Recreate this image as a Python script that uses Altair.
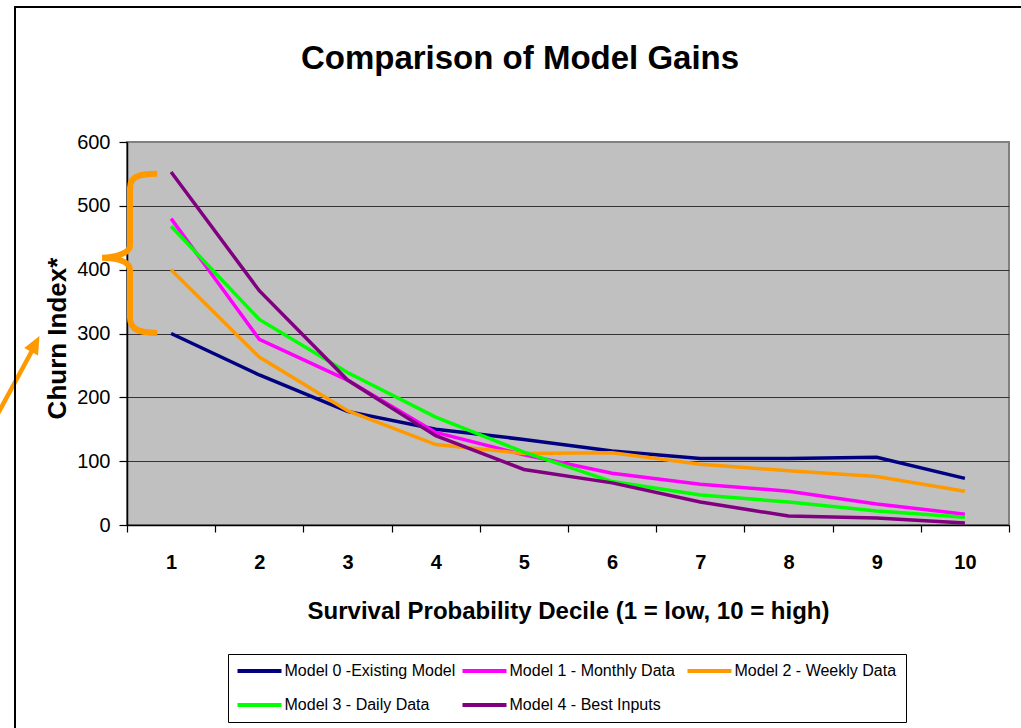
import altair as alt
import pandas as pd

# ---- data ----
deciles = [1, 2, 3, 4, 5, 6, 7, 8, 9, 10]
series_names = [
    "Model 0 -Existing Model",
    "Model 1 - Monthly Data",
    "Model 2 - Weekly Data",
    "Model 3 - Daily Data",
    "Model 4 - Best Inputs",
]
model0 = [300, 235, 178, 150, 134, 116, 104, 104, 106, 73]
model1 = [480, 291, 227, 145, 110, 81, 64, 53, 33, 17]
model2 = [400, 263, 179, 126, 112, 113, 95, 85, 76, 53]
model3 = [468, 322, 239, 169, 114, 68, 47, 36, 22, 12]
model4 = [553, 367, 227, 140, 87, 66, 36, 14, 11, 3]
series_values = [model0, model1, model2, model3, model4]
colors = ["#000080", "#FF00FF", "#FF9900", "#00FF00", "#800080"]
y_ticks = [0, 100, 200, 300, 400, 500, 600]

title_text = "Comparison of Model Gains"
x_title = "Survival Probability Decile (1 = low, 10 = high)"
y_title = "Churn Index*"
brace_center_value = 425  # middle of the decile-1 spread (300..553)

rows = []
for name, vals in zip(series_names, series_values):
    for d, v in zip(deciles, vals):
        rows.append({"decile": d, "index": v, "model": name})
df = pd.DataFrame(rows)

FONT = "Liberation Sans, Arial, sans-serif"
ORANGE = "#FF9900"

# tick marks at the category boundaries, labels at the category centres
x_axis_values = sorted(set([d - 0.5 for d in deciles] + [deciles[-1] + 0.5] + deciles))

x_enc = alt.X(
    "decile:Q",
    scale=alt.Scale(domain=[deciles[0] - 0.5, deciles[-1] + 0.5], nice=False, zero=False),
    axis=alt.Axis(
        values=x_axis_values,
        title=x_title,
        grid=False,
        labelExpr="datum.value % 1 == 0 ? format(datum.value, 'd') : ''",
        labelOverlap=False,
        labelFont=FONT,
        labelFontSize=20,
        labelFontWeight="bold",
        labelColor="black",
        labelBaseline="alphabetic",
        labelPadding=36,
        tickSize=7,
        tickColor="black",
        tickWidth=1.2,
        tickOpacity={"condition": {"test": "datum.value % 1 == 0", "value": 0}, "value": 1},
        domainColor="black",
        domainWidth=1.5,
        titleFont=FONT,
        titleFontSize=24,
        titleFontWeight="bold",
        titleColor="black",
        titleBaseline="alphabetic",
        titleY=93,
    ),
)

y_enc = alt.Y(
    "index:Q",
    scale=alt.Scale(domain=[0, 600], nice=False),
    axis=alt.Axis(
        values=y_ticks,
        title=y_title,
        labelFont=FONT,
        labelFontSize=20,
        labelColor="black",
        labelPadding=9,
        tickSize=8,
        tickColor="black",
        tickWidth=1.2,
        domainColor="black",
        domainWidth=1.5,
        grid=True,
        gridColor="#333333",
        gridWidth=1.2,
        gridOpacity={"condition": {"test": "datum.value >= 600 || datum.value <= 0", "value": 0}, "value": 1},
        titleFont=FONT,
        titleFontSize=26,
        titleFontWeight="bold",
        titleColor="black",
        titleAngle=270,
        titleBaseline="alphabetic",
        titleX=-62,
        titleY=196,
    ),
)

# long horizontal stroke used as legend symbol
LEG_SYMBOL = "M-4,0L4,0"

lines = alt.Chart(df).mark_line(strokeWidth=3.5).encode(
    x=x_enc,
    y=y_enc,
    color=alt.Color(
        "model:N",
        scale=alt.Scale(domain=series_names, range=colors),
        legend=alt.Legend(
            title=None,
            orient="none",
            direction="horizontal",
            legendX=101,
            legendY=512,
            columns=3,
            gridAlign="all",
            symbolType=LEG_SYMBOL,
            symbolSize=121,
            symbolStrokeWidth=4,
            symbolOffset=14.5,
            labelFont=FONT,
            labelFontSize=16,
            labelColor="black",
            labelLimit=400,
            labelOffset=17,
            columnPadding=-2,
            rowPadding=18,
            padding=9,
            strokeColor="black",
            fillColor="white",
        ),
    ),
)

one = pd.DataFrame({"k": [0]})

# curly brace over the decile-1 spread
BRACE = ("M0.34,-1 C0.1,-1 0,-0.96 0,-0.82 L0,-0.1 C0,-0.02 -0.16,0.05 -0.35,0.05 "
         "C-0.16,0.05 0,0.1 0,0.2 L0,0.8 C0,0.94 0.1,0.99 0.34,0.99")
brace = alt.Chart(one).mark_point(
    shape=BRACE, size=25600, filled=False, stroke=ORANGE, strokeWidth=6, opacity=1
).encode(x=alt.value(3), y=alt.datum(brace_center_value))

# arrow pointing at the axis title
shaft = alt.Chart(one).mark_rule(color=ORANGE, strokeWidth=4.5).encode(
    x=alt.value(-132), y=alt.value(277), x2=alt.value(-94), y2=alt.value(207)
)
HEAD = "M0,-1 L-0.46,0.05 L0.46,0.05 Z"
head = alt.Chart(one).mark_point(
    shape=HEAD, size=1156, filled=True, fill=ORANGE, strokeWidth=0, opacity=1, angle=28
).encode(x=alt.value(-95.5), y=alt.value(209))

# outer frame of the picture
frame_left = alt.Chart(one).mark_rule(color="black", strokeWidth=2).encode(
    x=alt.value(-112), y=alt.value(-135), y2=alt.value(600)
)
frame_top = alt.Chart(one).mark_rule(color="black", strokeWidth=2).encode(
    x=alt.value(-113), x2=alt.value(900), y=alt.value(-135)
)

chart = (
    alt.layer(lines, brace, shaft, head, frame_left, frame_top)
    .properties(
        width=882,
        height=383,
        autosize=alt.AutoSizeParams(type="none"),
        padding={"left": 127, "top": 142, "right": 12, "bottom": 203},
        title=alt.TitleParams(
            title_text,
            font=FONT,
            fontSize=33,
            fontWeight="bold",
            color="black",
            anchor="middle",
            frame="group",
            dx=-48,
            offset=-70,
        ),
        background="white",
    )
    .configure_view(fill="#C0C0C0", stroke="#808080", strokeWidth=2)
)

chart.save("out.html", embed_options={"renderer": "svg", "actions": False})
